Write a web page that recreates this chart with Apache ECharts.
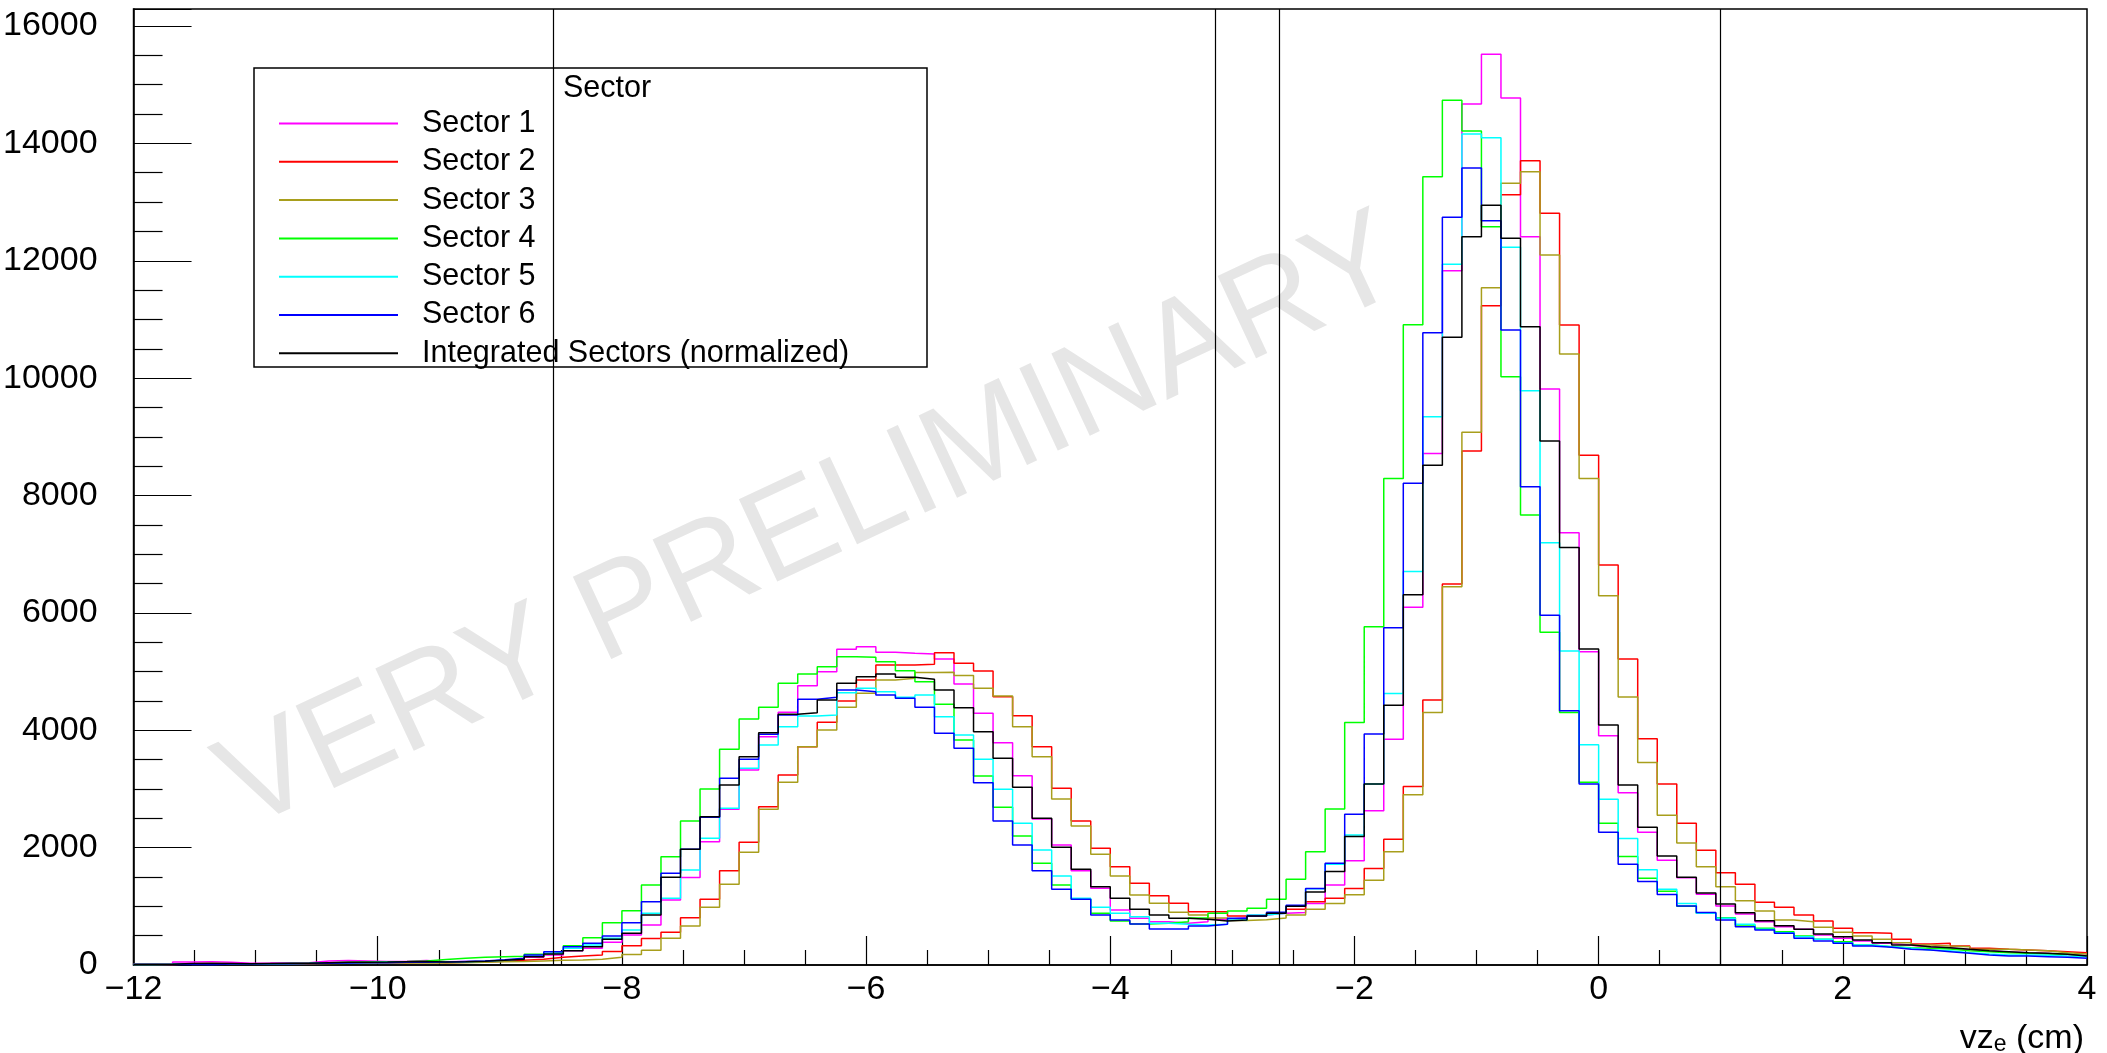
<!DOCTYPE html>
<html>
<head>
<meta charset="utf-8">
<script src="https://cdn.jsdelivr.net/npm/echarts@6/dist/echarts.min.js"></script>
<style>
html,body{margin:0;padding:0;background:#fff;}
#chart{width:2107px;height:1053px;}
</style>
</head>
<body>
<div id="chart"></div>
<script>
// ---- data ----
const binStart = -12;
const binWidth = 0.16;
const xTicks = [-12, -10, -8, -6, -4, -2, 0, 2, 4];
const cutLines = [-8.558, -3.144, -2.617, 1.0];
const seriesNames = ['Sector 1', 'Sector 2', 'Sector 3', 'Sector 4', 'Sector 5', 'Sector 6', 'Integrated Sectors (normalized)'];

const sector1 = [15,12,50,55,45,30,32,35,38,70, 75,70,60,65,75,55,60,65,75,95,
  131,170,244,284,386,511,682,1108,1489,2102, 2653,3323,3891,4306,4760,4999,5379,5425,5328,5311,
  5300,5215,4788,4289,3789,3226,2488,2045,1608,1307, 937,795,739,710,739,778,807,852,881,895,
  1047,1363,1777,2629,3846,6098,8715,11831,14671,15517, 14773,12410,9815,7364,5337,3907,2933,2260,1783,1487,
  1204,1005,869,738,653,608,511,454,409,369, 335,305,290,262,240,222,208,195,178,160];
const sector2 = [8,10,20,25,20,18,20,22,25,35, 40,45,42,40,45,40,45,55,65,80,
  100,130,153,170,230,330,450,560,807,1119, 1608,2091,2698,3238,3721,4135,4499,4857,5112,5112,
  5123,5322,5141,5010,4573,4249,3721,3011,2454,1988, 1676,1392,1182,1051,909,909,835,835,881,950,
  1077,1138,1302,1643,2142,3043,4516,6494,8758,11235, 13126,13705,12808,10905,8685,6816,5216,3855,3084,2414,
  1955,1573,1374,1068,983,852,750,625,551,540, 437,358,369,324,284,267,256,244,227,210];
const sector3 = [8,10,15,18,20,18,20,20,22,25, 28,30,32,35,38,35,40,45,55,60,
  70,80,85,100,130,180,250,455,665,983, 1375,1920,2653,3113,3721,4005,4391,4629,4857,4885,
  4982,4987,4931,4715,4584,4061,3550,2829,2369,1886, 1517,1193,1051,900,850,800,760,770,800,850,
  950,1050,1199,1442,1929,2903,4303,6445,9080,11541, 13319,13518,12098,10411,8289,6293,4565,3450,2550,2077,
  1675,1335,1096,920,767,738,642,557,494,437, 380,341,324,312,267,267,256,244,210,188];
const sector4 = [10,12,20,25,22,20,22,25,30,40, 45,50,55,60,70,95,115,130,140,150,
  185,215,329,465,721,926,1363,1846,2454,2999, 3675,4192,4391,4800,4959,5084,5254,5243,5169,5016,
  4828,4442,3834,3221,2687,2198,1733,1363,1119,881, 750,699,710,739,800,881,920,966,1119,1460,
  1929,2660,4132,5763,8289,10911,13433,14734,14211,12581, 10025,7668,5672,4303,3116,2416,1850,1480,1255,1000,
  880,806,681,625,568,494,437,398,341,312, 295,284,272,244,227,210,199,188,182,153];
const sector5 = [10,12,15,18,20,20,22,25,28,35, 40,42,45,48,50,50,55,65,80,105,
  150,200,284,341,454,596,881,1136,1619,2159, 2670,3351,3749,4061,4243,4260,4641,4715,4658,4561,
  4601,4232,3919,3505,2994,2414,1960,1517,1136,983, 881,824,710,693,682,693,767,852,881,1000,
  1300,1716,2215,3085,4625,6707,9343,11939,14160,14097, 12229,9786,7194,5350,3755,2824,2155,1622,1290,1049,
  880,795,693,608,551,483,437,380,341,312, 284,256,244,210,188,171,171,165,153,142];
const sector6 = [10,8,12,3,15,18,20,22,25,30, 35,38,40,45,48,50,60,70,90,113,
  170,227,312,369,494,721,1079,1562,1971,2517, 3181,3505,3931,4260,4527,4561,4686,4658,4601,4544,
  4391,3948,3692,3107,2454,2045,1608,1290,1119,852, 767,699,614,614,665,693,795,835,900,1016,
  1302,1735,2568,3938,5745,8210,10775,12740,13580,12683, 10820,8149,5958,4333,3085,2264,1716,1422,1200,1005,
  893,767,653,596,540,454,409,369,324,301, 267,256,227,199,171,153,153,142,131,114];
const integrated = [10,12,25,25,25,22,25,28,30,40, 45,48,50,55,60,50,55,65,80,100,
  142,187,244,312,437,539,850,1494,1971,2528, 3067,3550,3959,4272,4300,4516,4800,4913,4959,4902,
  4868,4686,4385,3976,3522,3028,2499,2005,1630,1335, 1136,949,852,795,778,750,767,835,881,1000,
  1242,1595,2191,3085,4425,6311,8514,10695,12410,12944, 12382,10877,8928,7114,5386,4090,3067,2348,1856,1495,
  1225,1039,892,755,670,608,528,483,426,380, 341,312,295,267,244,227,210,199,182,153];

const allValues = [sector1, sector2, sector3, sector4, sector5, sector6, integrated];
const colors = ['#ff00ff', '#ff0000', '#a89e1c', '#00ff00', '#00ffff', '#0000ff', '#000000'];

// ---- build ----
const FONT = "'Liberation Sans', Arial, Helvetica, sans-serif";
function histData(vals) {
  const d = vals.map((v, i) => [binStart + i * binWidth, v]);
  d.push([binStart + vals.length * binWidth, vals[vals.length - 1]]);
  return d;
}
const series = allValues.map((vals, i) => ({
  name: seriesNames[i],
  type: 'line',
  step: 'end',
  data: histData(vals),
  symbol: 'none',
  showSymbol: false,
  lineStyle: { color: colors[i], width: 1.5 },
  itemStyle: { color: colors[i] },
  z: 2,
  animation: false
}));
series[series.length - 1].markLine = {
  silent: true,
  symbol: ['none', 'none'],
  label: { show: false },
  lineStyle: { color: '#000', width: 1.2, type: 'solid' },
  data: cutLines.map(v => ({ xAxis: v })),
  animation: false
};

const chart = echarts.init(document.getElementById('chart'), null, { renderer: 'canvas' });
chart.setOption({
  backgroundColor: '#fff',
  animation: false,
  grid: { left: 133, right: 20, top: 9, bottom: 88, show: true, borderColor: '#000', borderWidth: 1.5, containLabel: false },
  xAxis: {
    type: 'value', min: xTicks[0], max: xTicks[xTicks.length - 1], interval: 2,
    axisLine: { show: true, onZero: false, lineStyle: { color: '#000', width: 1.5 } },
    axisTick: { show: true, inside: true, length: 29, lineStyle: { color: '#000', width: 1.2 } },
    minorTick: { show: true, splitNumber: 4, length: 15, lineStyle: { color: '#000', width: 1.2 } },
    splitLine: { show: false },
    axisLabel: { color: '#000', fontSize: 34, fontFamily: FONT, margin: 8,
      formatter: v => String(v).replace('-', '\u2212') }
  },
  yAxis: {
    type: 'value', min: 0, max: 16290, interval: 2000,
    axisLine: { show: true, onZero: false, lineStyle: { color: '#000', width: 1.5 } },
    axisTick: { show: true, inside: true, length: 58, lineStyle: { color: '#000', width: 1.2 } },
    minorTick: { show: true, splitNumber: 4, length: 29, lineStyle: { color: '#000', width: 1.2 } },
    splitLine: { show: false },
    axisLabel: { color: '#000', fontSize: 34, fontFamily: FONT, margin: 36, showMaxLabel: false,
      formatter: v => (v % 2000 === 0 ? String(v) : '') }
  },
  legend: {
    show: true, orient: 'vertical', left: 279, top: 108, padding: 0,
    icon: 'rect', itemWidth: 119, itemHeight: 2, itemGap: 7.3,
    data: seriesNames,
    textStyle: { color: '#000', fontSize: 30.5, fontFamily: FONT, lineHeight: 30, padding: [0, 0, 0, 19] },
    selectedMode: false, z: 4
  },
  graphic: { elements: [
    { type: 'text', x: 812, y: 525, rotation: 25.0 * Math.PI / 180, z: 1, silent: true,
      style: { text: 'VERY PRELIMINARY', fill: '#e6e6e6', font: '132px ' + FONT, align: 'center', verticalAlign: 'middle' } },
    { type: 'rect', shape: { x: 254, y: 68, width: 673, height: 299 }, z: 3, silent: true,
      style: { fill: '#fff', stroke: '#000', lineWidth: 1.5 } },
    { type: 'text', x: 607, y: 89, z: 5, silent: true,
      style: { text: 'Sector', fill: '#000', font: '30.5px ' + FONT, align: 'center', verticalAlign: 'middle' } },
    { type: 'text', x: 2084, y: 1034, z: 5, silent: true,
      style: { text: '{n|vz}{s|e}{n| (cm)}', align: 'right', verticalAlign: 'middle',
        rich: { n: { fontSize: 34, fontFamily: FONT, fill: '#000', lineHeight: 44, verticalAlign: 'bottom' },
                s: { fontSize: 23, fontFamily: FONT, fill: '#000', lineHeight: 20, verticalAlign: 'bottom' } } } }
  ]},
  series: series
});
</script>
</body>
</html>
